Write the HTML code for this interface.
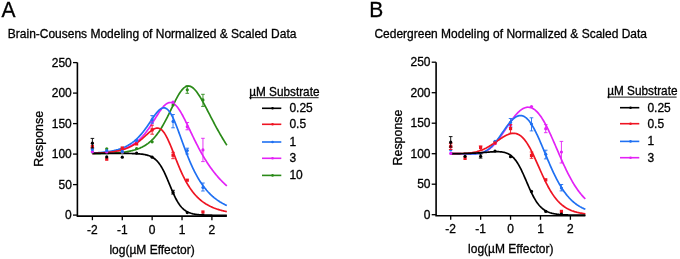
<!DOCTYPE html>
<html><head><meta charset="utf-8"><style>
html,body{margin:0;padding:0;background:#fff;width:680px;height:259px;overflow:hidden}
svg{display:block;will-change:transform}
text{font-family:"Liberation Sans", sans-serif;fill:#000;stroke:#000;stroke-width:0.3px}
</style></head><body>
<svg width="680" height="259" viewBox="0 0 680 259" font-family='"Liberation Sans", sans-serif'>
<rect width="680" height="259" fill="#fff"/>
<text font-size="21" transform="translate(1.60,17.20) scale(1,1.025)">A</text>
<text font-size="12" transform="translate(7.80,37.70) scale(1,1.04)">Brain-Cousens Modeling of Normalized &amp; Scaled Data</text>
<path d="M77.40,62.60 L77.40,216.10 L226.84,216.10" fill="none" stroke="#000" stroke-width="1.6"/>
<line x1="73.00" y1="215.10" x2="77.40" y2="215.10" stroke="#000" stroke-width="1.3"/>
<text font-size="12" text-anchor="end" transform="translate(71.80,219.20) scale(1,1.04)">0</text>
<line x1="73.00" y1="184.60" x2="77.40" y2="184.60" stroke="#000" stroke-width="1.3"/>
<text font-size="12" text-anchor="end" transform="translate(71.80,188.70) scale(1,1.04)">50</text>
<line x1="73.00" y1="154.10" x2="77.40" y2="154.10" stroke="#000" stroke-width="1.3"/>
<text font-size="12" text-anchor="end" transform="translate(71.80,158.20) scale(1,1.04)">100</text>
<line x1="73.00" y1="123.60" x2="77.40" y2="123.60" stroke="#000" stroke-width="1.3"/>
<text font-size="12" text-anchor="end" transform="translate(71.80,127.70) scale(1,1.04)">150</text>
<line x1="73.00" y1="93.10" x2="77.40" y2="93.10" stroke="#000" stroke-width="1.3"/>
<text font-size="12" text-anchor="end" transform="translate(71.80,97.20) scale(1,1.04)">200</text>
<line x1="73.00" y1="62.60" x2="77.40" y2="62.60" stroke="#000" stroke-width="1.3"/>
<text font-size="12" text-anchor="end" transform="translate(71.80,66.70) scale(1,1.04)">250</text>
<line x1="92.40" y1="216.10" x2="92.40" y2="220.20" stroke="#000" stroke-width="1.3"/>
<text font-size="12" text-anchor="middle" transform="translate(92.40,233.80) scale(1,1.04)">-2</text>
<line x1="122.28" y1="216.10" x2="122.28" y2="220.20" stroke="#000" stroke-width="1.3"/>
<text font-size="12" text-anchor="middle" transform="translate(122.28,233.80) scale(1,1.04)">-1</text>
<line x1="152.15" y1="216.10" x2="152.15" y2="220.20" stroke="#000" stroke-width="1.3"/>
<text font-size="12" text-anchor="middle" transform="translate(152.15,233.80) scale(1,1.04)">0</text>
<line x1="182.03" y1="216.10" x2="182.03" y2="220.20" stroke="#000" stroke-width="1.3"/>
<text font-size="12" text-anchor="middle" transform="translate(182.03,233.80) scale(1,1.04)">1</text>
<line x1="211.90" y1="216.10" x2="211.90" y2="220.20" stroke="#000" stroke-width="1.3"/>
<text font-size="12" text-anchor="middle" transform="translate(211.90,233.80) scale(1,1.04)">2</text>
<text font-size="12" text-anchor="middle" transform="translate(152.12,253.80) scale(1,1.04)">log(&#181;M Effector)</text>
<text font-size="12.4" text-anchor="middle" transform="translate(43.40,138.85) rotate(-90) scale(1,1.04)">Response</text>
<text font-size="11.8" transform="translate(249.20,95.50) scale(1,1.04)">&#181;M Substrate</text>
<line x1="249.20" y1="97.70" x2="318.60" y2="97.70" stroke="#000" stroke-width="0.9"/>
<line x1="262.00" y1="108.3" x2="281.30" y2="108.3" stroke="#000000" stroke-width="1.6"/>
<circle cx="272.55" cy="108.3" r="1.3" fill="#000000"/>
<text font-size="12" transform="translate(289.40,112.10) scale(1,1.04)">0.25</text>
<line x1="262.00" y1="124.3" x2="281.30" y2="124.3" stroke="#EE1422" stroke-width="1.6"/>
<circle cx="272.55" cy="124.3" r="1.3" fill="#EE1422"/>
<text font-size="12" transform="translate(289.40,128.10) scale(1,1.04)">0.5</text>
<line x1="262.00" y1="142.0" x2="281.30" y2="142.0" stroke="#1F70F2" stroke-width="1.6"/>
<circle cx="272.55" cy="142.0" r="1.3" fill="#1F70F2"/>
<text font-size="12" transform="translate(289.40,145.80) scale(1,1.04)">1</text>
<line x1="262.00" y1="158.3" x2="281.30" y2="158.3" stroke="#E322F6" stroke-width="1.6"/>
<circle cx="272.55" cy="158.3" r="1.3" fill="#E322F6"/>
<text font-size="12" transform="translate(289.40,162.10) scale(1,1.04)">3</text>
<line x1="262.00" y1="175.4" x2="281.30" y2="175.4" stroke="#2A8A18" stroke-width="1.6"/>
<circle cx="272.55" cy="175.4" r="1.3" fill="#2A8A18"/>
<text font-size="12" transform="translate(289.40,179.20) scale(1,1.04)">10</text>
<text font-size="21" transform="translate(369.30,17.20) scale(1,1.025)">B</text>
<text font-size="12" transform="translate(374.40,37.70) scale(1,1.04)">Cedergreen Modeling of Normalized &amp; Scaled Data</text>
<path d="M436.10,62.20 L436.10,215.70 L585.36,215.70" fill="none" stroke="#000" stroke-width="1.6"/>
<line x1="431.70" y1="214.70" x2="436.10" y2="214.70" stroke="#000" stroke-width="1.3"/>
<text font-size="12" text-anchor="end" transform="translate(430.50,218.60) scale(1,1.04)">0</text>
<line x1="431.70" y1="184.20" x2="436.10" y2="184.20" stroke="#000" stroke-width="1.3"/>
<text font-size="12" text-anchor="end" transform="translate(430.50,188.10) scale(1,1.04)">50</text>
<line x1="431.70" y1="153.70" x2="436.10" y2="153.70" stroke="#000" stroke-width="1.3"/>
<text font-size="12" text-anchor="end" transform="translate(430.50,157.60) scale(1,1.04)">100</text>
<line x1="431.70" y1="123.20" x2="436.10" y2="123.20" stroke="#000" stroke-width="1.3"/>
<text font-size="12" text-anchor="end" transform="translate(430.50,127.10) scale(1,1.04)">150</text>
<line x1="431.70" y1="92.70" x2="436.10" y2="92.70" stroke="#000" stroke-width="1.3"/>
<text font-size="12" text-anchor="end" transform="translate(430.50,96.60) scale(1,1.04)">200</text>
<line x1="431.70" y1="62.20" x2="436.10" y2="62.20" stroke="#000" stroke-width="1.3"/>
<text font-size="12" text-anchor="end" transform="translate(430.50,66.10) scale(1,1.04)">250</text>
<line x1="450.70" y1="215.70" x2="450.70" y2="219.80" stroke="#000" stroke-width="1.3"/>
<text font-size="12" text-anchor="middle" transform="translate(450.70,233.30) scale(1,1.04)">-2</text>
<line x1="480.62" y1="215.70" x2="480.62" y2="219.80" stroke="#000" stroke-width="1.3"/>
<text font-size="12" text-anchor="middle" transform="translate(480.62,233.30) scale(1,1.04)">-1</text>
<line x1="510.55" y1="215.70" x2="510.55" y2="219.80" stroke="#000" stroke-width="1.3"/>
<text font-size="12" text-anchor="middle" transform="translate(510.55,233.30) scale(1,1.04)">0</text>
<line x1="540.48" y1="215.70" x2="540.48" y2="219.80" stroke="#000" stroke-width="1.3"/>
<text font-size="12" text-anchor="middle" transform="translate(540.48,233.30) scale(1,1.04)">1</text>
<line x1="570.40" y1="215.70" x2="570.40" y2="219.80" stroke="#000" stroke-width="1.3"/>
<text font-size="12" text-anchor="middle" transform="translate(570.40,233.30) scale(1,1.04)">2</text>
<text font-size="12" text-anchor="middle" transform="translate(510.73,253.30) scale(1,1.04)">log(&#181;M Effector)</text>
<text font-size="12.4" text-anchor="middle" transform="translate(402.10,137.55) rotate(-90) scale(1,1.04)">Response</text>
<text font-size="11.8" transform="translate(607.20,94.90) scale(1,1.04)">&#181;M Substrate</text>
<line x1="607.20" y1="97.10" x2="676.60" y2="97.10" stroke="#000" stroke-width="0.9"/>
<line x1="620.00" y1="107.7" x2="639.30" y2="107.7" stroke="#000000" stroke-width="1.6"/>
<circle cx="630.55" cy="107.7" r="1.3" fill="#000000"/>
<text font-size="12" transform="translate(647.40,111.50) scale(1,1.04)">0.25</text>
<line x1="620.00" y1="123.7" x2="639.30" y2="123.7" stroke="#EE1422" stroke-width="1.6"/>
<circle cx="630.55" cy="123.7" r="1.3" fill="#EE1422"/>
<text font-size="12" transform="translate(647.40,127.50) scale(1,1.04)">0.5</text>
<line x1="620.00" y1="141.4" x2="639.30" y2="141.4" stroke="#1F70F2" stroke-width="1.6"/>
<circle cx="630.55" cy="141.4" r="1.3" fill="#1F70F2"/>
<text font-size="12" transform="translate(647.40,145.20) scale(1,1.04)">1</text>
<line x1="620.00" y1="157.70000000000002" x2="639.30" y2="157.70000000000002" stroke="#E322F6" stroke-width="1.6"/>
<circle cx="630.55" cy="157.70000000000002" r="1.3" fill="#E322F6"/>
<text font-size="12" transform="translate(647.40,161.50) scale(1,1.04)">3</text>
<path d="M92.40,153.66 L93.08,153.66 L93.75,153.65 L94.43,153.64 L95.10,153.63 L95.78,153.62 L96.45,153.61 L97.13,153.60 L97.80,153.59 L98.48,153.57 L99.16,153.56 L99.83,153.55 L100.51,153.53 L101.18,153.52 L101.86,153.50 L102.53,153.49 L103.21,153.47 L103.88,153.45 L104.56,153.43 L105.24,153.41 L105.91,153.39 L106.59,153.36 L107.26,153.34 L107.94,153.32 L108.61,153.29 L109.29,153.26 L109.96,153.23 L110.64,153.20 L111.32,153.17 L111.99,153.13 L112.67,153.10 L113.34,153.06 L114.02,153.02 L114.69,152.97 L115.37,152.93 L116.04,152.88 L116.72,152.83 L117.40,152.78 L118.07,152.72 L118.75,152.67 L119.42,152.60 L120.10,152.54 L120.77,152.47 L121.45,152.40 L122.12,152.33 L122.80,152.25 L123.48,152.16 L124.15,152.08 L124.83,151.98 L125.50,151.89 L126.18,151.78 L126.85,151.68 L127.53,151.56 L128.20,151.44 L128.88,151.32 L129.56,151.19 L130.23,151.05 L130.91,150.90 L131.58,150.75 L132.26,150.59 L132.93,150.42 L133.61,150.24 L134.29,150.05 L134.96,149.86 L135.64,149.65 L136.31,149.43 L136.99,149.20 L137.66,148.96 L138.34,148.71 L139.01,148.45 L139.69,148.17 L140.37,147.88 L141.04,147.57 L141.72,147.25 L142.39,146.92 L143.07,146.56 L143.74,146.19 L144.42,145.81 L145.09,145.40 L145.77,144.97 L146.45,144.53 L147.12,144.06 L147.80,143.57 L148.47,143.06 L149.15,142.53 L149.82,141.97 L150.50,141.39 L151.17,140.78 L151.85,140.14 L152.53,139.48 L153.20,138.79 L153.88,138.07 L154.55,137.32 L155.23,136.54 L155.90,135.72 L156.58,134.88 L157.25,134.01 L157.93,133.10 L158.61,132.16 L159.28,131.18 L159.96,130.17 L160.63,129.13 L161.31,128.06 L161.98,126.95 L162.66,125.81 L163.33,124.64 L164.01,123.44 L164.69,122.21 L165.36,120.95 L166.04,119.67 L166.71,118.36 L167.39,117.03 L168.06,115.67 L168.74,114.30 L169.41,112.92 L170.09,111.52 L170.77,110.12 L171.44,108.71 L172.12,107.31 L172.79,105.90 L173.47,104.51 L174.14,103.13 L174.82,101.78 L175.49,100.44 L176.17,99.14 L176.85,97.87 L177.52,96.64 L178.20,95.45 L178.87,94.32 L179.55,93.24 L180.22,92.22 L180.90,91.27 L181.57,90.39 L182.25,89.58 L182.93,88.84 L183.60,88.19 L184.28,87.62 L184.95,87.13 L185.63,86.73 L186.30,86.41 L186.98,86.19 L187.65,86.05 L188.33,86.00 L189.01,86.03 L189.68,86.15 L190.36,86.36 L191.03,86.65 L191.71,87.02 L192.38,87.46 L193.06,87.98 L193.73,88.58 L194.41,89.24 L195.09,89.96 L195.76,90.75 L196.44,91.59 L197.11,92.48 L197.79,93.43 L198.46,94.42 L199.14,95.46 L199.81,96.53 L200.49,97.64 L201.17,98.78 L201.84,99.95 L202.52,101.15 L203.19,102.37 L203.87,103.61 L204.54,104.86 L205.22,106.13 L205.89,107.41 L206.57,108.70 L207.25,110.00 L207.92,111.30 L208.60,112.61 L209.27,113.92 L209.95,115.23 L210.62,116.54 L211.30,117.84 L211.98,119.14 L212.65,120.44 L213.33,121.72 L214.00,123.00 L214.68,124.28 L215.35,125.54 L216.03,126.80 L216.70,128.04 L217.38,129.27 L218.06,130.49 L218.73,131.70 L219.41,132.90 L220.08,134.09 L220.76,135.26 L221.43,136.42 L222.11,137.56 L222.78,138.70 L223.46,139.81 L224.14,140.92 L224.81,142.01 L225.49,143.09 L226.16,144.15 L226.84,145.20" fill="none" stroke="#2A8A18" stroke-width="1.7" stroke-linejoin="round"/>
<path d="M92.40,153.33 L93.08,153.31 L93.75,153.28 L94.43,153.25 L95.10,153.22 L95.78,153.19 L96.45,153.16 L97.13,153.13 L97.80,153.09 L98.48,153.06 L99.16,153.02 L99.83,152.98 L100.51,152.93 L101.18,152.89 L101.86,152.84 L102.53,152.79 L103.21,152.74 L103.88,152.68 L104.56,152.63 L105.24,152.57 L105.91,152.50 L106.59,152.43 L107.26,152.36 L107.94,152.29 L108.61,152.21 L109.29,152.13 L109.96,152.05 L110.64,151.96 L111.32,151.86 L111.99,151.76 L112.67,151.66 L113.34,151.55 L114.02,151.44 L114.69,151.32 L115.37,151.19 L116.04,151.06 L116.72,150.92 L117.40,150.77 L118.07,150.62 L118.75,150.46 L119.42,150.29 L120.10,150.11 L120.77,149.93 L121.45,149.74 L122.12,149.53 L122.80,149.32 L123.48,149.10 L124.15,148.86 L124.83,148.62 L125.50,148.36 L126.18,148.09 L126.85,147.81 L127.53,147.52 L128.20,147.21 L128.88,146.89 L129.56,146.55 L130.23,146.20 L130.91,145.83 L131.58,145.45 L132.26,145.05 L132.93,144.63 L133.61,144.19 L134.29,143.73 L134.96,143.26 L135.64,142.76 L136.31,142.25 L136.99,141.71 L137.66,141.15 L138.34,140.57 L139.01,139.96 L139.69,139.33 L140.37,138.68 L141.04,138.00 L141.72,137.30 L142.39,136.57 L143.07,135.82 L143.74,135.04 L144.42,134.24 L145.09,133.41 L145.77,132.56 L146.45,131.68 L147.12,130.78 L147.80,129.85 L148.47,128.90 L149.15,127.93 L149.82,126.94 L150.50,125.93 L151.17,124.90 L151.85,123.85 L152.53,122.79 L153.20,121.72 L153.88,120.65 L154.55,119.56 L155.23,118.47 L155.90,117.39 L156.58,116.30 L157.25,115.23 L157.93,114.17 L158.61,113.13 L159.28,112.10 L159.96,111.11 L160.63,110.14 L161.31,109.21 L161.98,108.32 L162.66,107.48 L163.33,106.69 L164.01,105.95 L164.69,105.27 L165.36,104.66 L166.04,104.12 L166.71,103.65 L167.39,103.25 L168.06,102.94 L168.74,102.70 L169.41,102.55 L170.09,102.49 L170.77,102.51 L171.44,102.61 L172.12,102.81 L172.79,103.09 L173.47,103.45 L174.14,103.90 L174.82,104.43 L175.49,105.04 L176.17,105.73 L176.85,106.49 L177.52,107.32 L178.20,108.22 L178.87,109.17 L179.55,110.19 L180.22,111.26 L180.90,112.38 L181.57,113.55 L182.25,114.76 L182.93,116.01 L183.60,117.28 L184.28,118.59 L184.95,119.93 L185.63,121.28 L186.30,122.66 L186.98,124.05 L187.65,125.45 L188.33,126.86 L189.01,128.27 L189.68,129.69 L190.36,131.11 L191.03,132.53 L191.71,133.94 L192.38,135.35 L193.06,136.75 L193.73,138.14 L194.41,139.52 L195.09,140.89 L195.76,142.25 L196.44,143.59 L197.11,144.91 L197.79,146.23 L198.46,147.52 L199.14,148.80 L199.81,150.06 L200.49,151.30 L201.17,152.52 L201.84,153.73 L202.52,154.91 L203.19,156.08 L203.87,157.23 L204.54,158.36 L205.22,159.47 L205.89,160.56 L206.57,161.63 L207.25,162.68 L207.92,163.72 L208.60,164.73 L209.27,165.73 L209.95,166.71 L210.62,167.67 L211.30,168.61 L211.98,169.53 L212.65,170.44 L213.33,171.33 L214.00,172.20 L214.68,173.05 L215.35,173.89 L216.03,174.71 L216.70,175.52 L217.38,176.31 L218.06,177.09 L218.73,177.85 L219.41,178.59 L220.08,179.32 L220.76,180.04 L221.43,180.74 L222.11,181.43 L222.78,182.10 L223.46,182.76 L224.14,183.41 L224.81,184.04 L225.49,184.67 L226.16,185.27 L226.84,185.87" fill="none" stroke="#E322F6" stroke-width="1.7" stroke-linejoin="round"/>
<path d="M92.40,153.10 L93.08,153.06 L93.75,153.03 L94.43,152.99 L95.10,152.95 L95.78,152.91 L96.45,152.86 L97.13,152.81 L97.80,152.77 L98.48,152.72 L99.16,152.66 L99.83,152.61 L100.51,152.55 L101.18,152.49 L101.86,152.42 L102.53,152.35 L103.21,152.28 L103.88,152.21 L104.56,152.13 L105.24,152.05 L105.91,151.96 L106.59,151.87 L107.26,151.78 L107.94,151.68 L108.61,151.58 L109.29,151.47 L109.96,151.36 L110.64,151.24 L111.32,151.12 L111.99,150.99 L112.67,150.85 L113.34,150.71 L114.02,150.56 L114.69,150.40 L115.37,150.24 L116.04,150.07 L116.72,149.89 L117.40,149.70 L118.07,149.51 L118.75,149.30 L119.42,149.09 L120.10,148.87 L120.77,148.63 L121.45,148.39 L122.12,148.13 L122.80,147.86 L123.48,147.58 L124.15,147.29 L124.83,146.99 L125.50,146.67 L126.18,146.34 L126.85,145.99 L127.53,145.63 L128.20,145.25 L128.88,144.85 L129.56,144.44 L130.23,144.01 L130.91,143.57 L131.58,143.10 L132.26,142.62 L132.93,142.12 L133.61,141.59 L134.29,141.05 L134.96,140.48 L135.64,139.90 L136.31,139.29 L136.99,138.66 L137.66,138.00 L138.34,137.32 L139.01,136.62 L139.69,135.90 L140.37,135.15 L141.04,134.38 L141.72,133.58 L142.39,132.76 L143.07,131.92 L143.74,131.06 L144.42,130.17 L145.09,129.27 L145.77,128.34 L146.45,127.40 L147.12,126.44 L147.80,125.46 L148.47,124.47 L149.15,123.48 L149.82,122.47 L150.50,121.46 L151.17,120.45 L151.85,119.44 L152.53,118.44 L153.20,117.45 L153.88,116.48 L154.55,115.53 L155.23,114.61 L155.90,113.72 L156.58,112.86 L157.25,112.06 L157.93,111.30 L158.61,110.60 L159.28,109.97 L159.96,109.40 L160.63,108.91 L161.31,108.51 L161.98,108.19 L162.66,107.97 L163.33,107.85 L164.01,107.83 L164.69,107.91 L165.36,108.11 L166.04,108.41 L166.71,108.83 L167.39,109.36 L168.06,110.00 L168.74,110.76 L169.41,111.62 L170.09,112.59 L170.77,113.66 L171.44,114.83 L172.12,116.09 L172.79,117.44 L173.47,118.87 L174.14,120.37 L174.82,121.94 L175.49,123.57 L176.17,125.25 L176.85,126.98 L177.52,128.75 L178.20,130.55 L178.87,132.38 L179.55,134.22 L180.22,136.08 L180.90,137.95 L181.57,139.82 L182.25,141.68 L182.93,143.54 L183.60,145.39 L184.28,147.22 L184.95,149.04 L185.63,150.83 L186.30,152.59 L186.98,154.33 L187.65,156.04 L188.33,157.72 L189.01,159.37 L189.68,160.99 L190.36,162.57 L191.03,164.11 L191.71,165.62 L192.38,167.09 L193.06,168.53 L193.73,169.93 L194.41,171.30 L195.09,172.63 L195.76,173.92 L196.44,175.18 L197.11,176.40 L197.79,177.59 L198.46,178.74 L199.14,179.86 L199.81,180.95 L200.49,182.01 L201.17,183.04 L201.84,184.03 L202.52,185.00 L203.19,185.93 L203.87,186.84 L204.54,187.72 L205.22,188.58 L205.89,189.40 L206.57,190.21 L207.25,190.98 L207.92,191.74 L208.60,192.47 L209.27,193.17 L209.95,193.86 L210.62,194.52 L211.30,195.17 L211.98,195.79 L212.65,196.40 L213.33,196.98 L214.00,197.55 L214.68,198.10 L215.35,198.63 L216.03,199.15 L216.70,199.65 L217.38,200.13 L218.06,200.60 L218.73,201.05 L219.41,201.49 L220.08,201.92 L220.76,202.33 L221.43,202.73 L222.11,203.12 L222.78,203.50 L223.46,203.86 L224.14,204.21 L224.81,204.56 L225.49,204.89 L226.16,205.21 L226.84,205.52" fill="none" stroke="#1F70F2" stroke-width="1.7" stroke-linejoin="round"/>
<path d="M92.40,153.38 L93.08,153.36 L93.75,153.33 L94.43,153.31 L95.10,153.28 L95.78,153.25 L96.45,153.22 L97.13,153.19 L97.80,153.16 L98.48,153.13 L99.16,153.09 L99.83,153.05 L100.51,153.01 L101.18,152.97 L101.86,152.93 L102.53,152.88 L103.21,152.83 L103.88,152.78 L104.56,152.73 L105.24,152.67 L105.91,152.61 L106.59,152.55 L107.26,152.49 L107.94,152.42 L108.61,152.34 L109.29,152.27 L109.96,152.19 L110.64,152.11 L111.32,152.02 L111.99,151.93 L112.67,151.83 L113.34,151.73 L114.02,151.62 L114.69,151.51 L115.37,151.39 L116.04,151.27 L116.72,151.14 L117.40,151.00 L118.07,150.86 L118.75,150.71 L119.42,150.55 L120.10,150.39 L120.77,150.22 L121.45,150.04 L122.12,149.85 L122.80,149.65 L123.48,149.45 L124.15,149.23 L124.83,149.00 L125.50,148.77 L126.18,148.52 L126.85,148.26 L127.53,147.99 L128.20,147.71 L128.88,147.41 L129.56,147.10 L130.23,146.78 L130.91,146.45 L131.58,146.10 L132.26,145.74 L132.93,145.36 L133.61,144.97 L134.29,144.56 L134.96,144.14 L135.64,143.71 L136.31,143.25 L136.99,142.79 L137.66,142.30 L138.34,141.80 L139.01,141.29 L139.69,140.76 L140.37,140.22 L141.04,139.67 L141.72,139.10 L142.39,138.52 L143.07,137.93 L143.74,137.33 L144.42,136.72 L145.09,136.11 L145.77,135.49 L146.45,134.88 L147.12,134.26 L147.80,133.65 L148.47,133.05 L149.15,132.46 L149.82,131.89 L150.50,131.34 L151.17,130.81 L151.85,130.31 L152.53,129.85 L153.20,129.43 L153.88,129.06 L154.55,128.74 L155.23,128.47 L155.90,128.28 L156.58,128.15 L157.25,128.10 L157.93,128.12 L158.61,128.24 L159.28,128.44 L159.96,128.74 L160.63,129.13 L161.31,129.62 L161.98,130.22 L162.66,130.91 L163.33,131.70 L164.01,132.60 L164.69,133.59 L165.36,134.67 L166.04,135.84 L166.71,137.09 L167.39,138.43 L168.06,139.83 L168.74,141.30 L169.41,142.83 L170.09,144.41 L170.77,146.03 L171.44,147.69 L172.12,149.38 L172.79,151.09 L173.47,152.81 L174.14,154.54 L174.82,156.27 L175.49,158.00 L176.17,159.71 L176.85,161.42 L177.52,163.10 L178.20,164.76 L178.87,166.39 L179.55,168.00 L180.22,169.57 L180.90,171.11 L181.57,172.61 L182.25,174.07 L182.93,175.50 L183.60,176.89 L184.28,178.24 L184.95,179.55 L185.63,180.82 L186.30,182.05 L186.98,183.24 L187.65,184.39 L188.33,185.51 L189.01,186.58 L189.68,187.62 L190.36,188.63 L191.03,189.60 L191.71,190.53 L192.38,191.43 L193.06,192.30 L193.73,193.14 L194.41,193.95 L195.09,194.73 L195.76,195.48 L196.44,196.20 L197.11,196.90 L197.79,197.57 L198.46,198.22 L199.14,198.84 L199.81,199.44 L200.49,200.02 L201.17,200.57 L201.84,201.11 L202.52,201.62 L203.19,202.12 L203.87,202.60 L204.54,203.06 L205.22,203.50 L205.89,203.93 L206.57,204.34 L207.25,204.73 L207.92,205.12 L208.60,205.48 L209.27,205.84 L209.95,206.18 L210.62,206.51 L211.30,206.82 L211.98,207.13 L212.65,207.42 L213.33,207.70 L214.00,207.98 L214.68,208.24 L215.35,208.49 L216.03,208.74 L216.70,208.97 L217.38,209.20 L218.06,209.42 L218.73,209.63 L219.41,209.83 L220.08,210.02 L220.76,210.21 L221.43,210.39 L222.11,210.57 L222.78,210.74 L223.46,210.90 L224.14,211.06 L224.81,211.21 L225.49,211.35 L226.16,211.49 L226.84,211.63" fill="none" stroke="#EE1422" stroke-width="1.7" stroke-linejoin="round"/>
<path d="M92.40,153.38 L93.08,153.38 L93.75,153.38 L94.43,153.38 L95.10,153.38 L95.78,153.38 L96.45,153.38 L97.13,153.38 L97.80,153.38 L98.48,153.38 L99.16,153.38 L99.83,153.38 L100.51,153.38 L101.18,153.38 L101.86,153.38 L102.53,153.38 L103.21,153.38 L103.88,153.38 L104.56,153.38 L105.24,153.37 L105.91,153.38 L106.59,153.38 L107.26,153.38 L107.94,153.38 L108.61,153.38 L109.29,153.38 L109.96,153.38 L110.64,153.38 L111.32,153.38 L111.99,153.38 L112.67,153.38 L113.34,153.38 L114.02,153.38 L114.69,153.38 L115.37,153.38 L116.04,153.38 L116.72,153.38 L117.40,153.38 L118.07,153.39 L118.75,153.39 L119.42,153.39 L120.10,153.39 L120.77,153.40 L121.45,153.40 L122.12,153.40 L122.80,153.40 L123.48,153.41 L124.15,153.41 L124.83,153.42 L125.50,153.42 L126.18,153.43 L126.85,153.44 L127.53,153.45 L128.20,153.46 L128.88,153.47 L129.56,153.48 L130.23,153.49 L130.91,153.50 L131.58,153.52 L132.26,153.54 L132.93,153.56 L133.61,153.58 L134.29,153.60 L134.96,153.63 L135.64,153.66 L136.31,153.69 L136.99,153.73 L137.66,153.77 L138.34,153.81 L139.01,153.86 L139.69,153.92 L140.37,153.98 L141.04,154.05 L141.72,154.13 L142.39,154.21 L143.07,154.30 L143.74,154.41 L144.42,154.52 L145.09,154.65 L145.77,154.80 L146.45,154.95 L147.12,155.13 L147.80,155.32 L148.47,155.53 L149.15,155.77 L149.82,156.02 L150.50,156.31 L151.17,156.62 L151.85,156.97 L152.53,157.35 L153.20,157.77 L153.88,158.22 L154.55,158.72 L155.23,159.27 L155.90,159.86 L156.58,160.51 L157.25,161.21 L157.93,161.97 L158.61,162.79 L159.28,163.68 L159.96,164.63 L160.63,165.64 L161.31,166.72 L161.98,167.87 L162.66,169.09 L163.33,170.37 L164.01,171.72 L164.69,173.12 L165.36,174.58 L166.04,176.09 L166.71,177.65 L167.39,179.24 L168.06,180.85 L168.74,182.49 L169.41,184.14 L170.09,185.79 L170.77,187.43 L171.44,189.05 L172.12,190.64 L172.79,192.21 L173.47,193.73 L174.14,195.20 L174.82,196.62 L175.49,197.98 L176.17,199.27 L176.85,200.51 L177.52,201.67 L178.20,202.77 L178.87,203.80 L179.55,204.76 L180.22,205.66 L180.90,206.50 L181.57,207.27 L182.25,207.99 L182.93,208.65 L183.60,209.25 L184.28,209.81 L184.95,210.32 L185.63,210.79 L186.30,211.21 L186.98,211.60 L187.65,211.95 L188.33,212.28 L189.01,212.57 L189.68,212.83 L190.36,213.07 L191.03,213.29 L191.71,213.49 L192.38,213.67 L193.06,213.83 L193.73,213.97 L194.41,214.10 L195.09,214.22 L195.76,214.33 L196.44,214.43 L197.11,214.51 L197.79,214.59 L198.46,214.66 L199.14,214.73 L199.81,214.78 L200.49,214.84 L201.17,214.88 L201.84,214.92 L202.52,214.96 L203.19,215.00 L203.87,215.03 L204.54,215.05 L205.22,215.08 L205.89,215.10 L206.57,215.12 L207.25,215.14 L207.92,215.16 L208.60,215.17 L209.27,215.18 L209.95,215.19 L210.62,215.21 L211.30,215.21 L211.98,215.22 L212.65,215.23 L213.33,215.24 L214.00,215.24 L214.68,215.25 L215.35,215.26 L216.03,215.26 L216.70,215.26 L217.38,215.27 L218.06,215.27 L218.73,215.27 L219.41,215.28 L220.08,215.28 L220.76,215.28 L221.43,215.28 L222.11,215.28 L222.78,215.29 L223.46,215.29 L224.14,215.29 L224.81,215.29 L225.49,215.29 L226.16,215.29 L226.84,215.29" fill="none" stroke="#000000" stroke-width="1.7" stroke-linejoin="round"/>
<circle cx="92.40" cy="152.00" r="1.6" fill="#2A8A18"/>
<circle cx="106.74" cy="148.80" r="1.6" fill="#2A8A18"/>
<circle cx="122.28" cy="152.60" r="1.6" fill="#2A8A18"/>
<circle cx="136.62" cy="148.50" r="1.6" fill="#2A8A18"/>
<circle cx="152.15" cy="141.80" r="1.6" fill="#2A8A18"/>
<circle cx="173.06" cy="105.00" r="1.6" fill="#2A8A18"/>
<path d="M187.28,85.80 L187.28,93.30 M185.48,85.80 L189.08,85.80 M185.48,93.30 L189.08,93.30" stroke="#2A8A18" stroke-width="0.9" fill="none"/>
<circle cx="187.28" cy="89.80" r="1.6" fill="#2A8A18"/>
<path d="M202.94,94.30 L202.94,106.40 M201.14,94.30 L204.74,94.30 M201.14,106.40 L204.74,106.40" stroke="#2A8A18" stroke-width="0.9" fill="none"/>
<circle cx="202.94" cy="99.90" r="1.6" fill="#2A8A18"/>
<circle cx="92.40" cy="151.70" r="1.6" fill="#E322F6"/>
<circle cx="106.74" cy="152.00" r="1.6" fill="#E322F6"/>
<circle cx="122.28" cy="152.00" r="1.6" fill="#E322F6"/>
<circle cx="136.62" cy="142.00" r="1.6" fill="#E322F6"/>
<circle cx="152.15" cy="121.40" r="1.6" fill="#E322F6"/>
<circle cx="173.06" cy="102.00" r="1.6" fill="#E322F6"/>
<path d="M187.28,122.50 L187.28,129.80 M185.48,122.50 L189.08,122.50 M185.48,129.80 L189.08,129.80" stroke="#E322F6" stroke-width="0.9" fill="none"/>
<circle cx="187.28" cy="126.70" r="1.6" fill="#E322F6"/>
<path d="M202.94,138.30 L202.94,161.60 M201.14,138.30 L204.74,138.30 M201.14,161.60 L204.74,161.60" stroke="#E322F6" stroke-width="0.9" fill="none"/>
<circle cx="202.94" cy="149.90" r="1.6" fill="#E322F6"/>
<circle cx="92.40" cy="149.40" r="1.6" fill="#1F70F2"/>
<circle cx="106.74" cy="150.50" r="1.6" fill="#1F70F2"/>
<circle cx="122.28" cy="151.40" r="1.6" fill="#1F70F2"/>
<circle cx="136.62" cy="140.40" r="1.6" fill="#1F70F2"/>
<path d="M152.15,115.60 L152.15,123.20 M150.35,115.60 L153.95,115.60 M150.35,123.20 L153.95,123.20" stroke="#1F70F2" stroke-width="0.9" fill="none"/>
<circle cx="152.15" cy="119.70" r="1.6" fill="#1F70F2"/>
<path d="M173.06,114.50 L173.06,127.80 M171.26,114.50 L174.86,114.50 M171.26,127.80 L174.86,127.80" stroke="#1F70F2" stroke-width="0.9" fill="none"/>
<circle cx="173.06" cy="121.40" r="1.6" fill="#1F70F2"/>
<path d="M187.28,148.20 L187.28,154.00 M185.48,148.20 L189.08,148.20 M185.48,154.00 L189.08,154.00" stroke="#1F70F2" stroke-width="0.9" fill="none"/>
<circle cx="187.28" cy="150.50" r="1.6" fill="#1F70F2"/>
<path d="M202.94,183.00 L202.94,191.00 M201.14,183.00 L204.74,183.00 M201.14,191.00 L204.74,191.00" stroke="#1F70F2" stroke-width="0.9" fill="none"/>
<circle cx="202.94" cy="187.50" r="1.6" fill="#1F70F2"/>
<rect x="90.80" y="144.90" width="3.2" height="3.2" fill="#EE1422"/>
<rect x="105.14" y="157.60" width="3.2" height="3.2" fill="#EE1422"/>
<rect x="120.68" y="146.40" width="3.2" height="3.2" fill="#EE1422"/>
<rect x="135.02" y="142.30" width="3.2" height="3.2" fill="#EE1422"/>
<path d="M152.15,125.20 L152.15,134.20 M150.35,125.20 L153.95,125.20 M150.35,134.20 L153.95,134.20" stroke="#EE1422" stroke-width="0.9" fill="none"/>
<rect x="150.55" y="128.20" width="3.2" height="3.2" fill="#EE1422"/>
<path d="M173.06,152.30 L173.06,158.70 M171.26,152.30 L174.86,152.30 M171.26,158.70 L174.86,158.70" stroke="#EE1422" stroke-width="0.9" fill="none"/>
<rect x="171.46" y="153.60" width="3.2" height="3.2" fill="#EE1422"/>
<rect x="185.68" y="178.60" width="3.2" height="3.2" fill="#EE1422"/>
<rect x="201.34" y="210.40" width="3.2" height="3.2" fill="#EE1422"/>
<path d="M92.40,138.40 L92.40,148.00 M90.60,138.40 L94.20,138.40 M90.60,148.00 L94.20,148.00" stroke="#000000" stroke-width="0.9" fill="none"/>
<circle cx="92.40" cy="143.20" r="1.6" fill="#000000"/>
<circle cx="106.74" cy="156.90" r="1.6" fill="#000000"/>
<circle cx="122.28" cy="157.20" r="1.6" fill="#000000"/>
<circle cx="136.62" cy="153.20" r="1.6" fill="#000000"/>
<circle cx="152.15" cy="157.20" r="1.6" fill="#000000"/>
<path d="M173.06,190.30 L173.06,194.10 M171.26,190.30 L174.86,190.30 M171.26,194.10 L174.86,194.10" stroke="#000000" stroke-width="0.9" fill="none"/>
<circle cx="173.06" cy="192.40" r="1.6" fill="#000000"/>
<circle cx="187.28" cy="212.60" r="1.6" fill="#000000"/>
<circle cx="202.94" cy="215.00" r="1.6" fill="#000000"/>
<path d="M450.70,153.66 L451.38,153.66 L452.05,153.66 L452.73,153.67 L453.41,153.67 L454.08,153.68 L454.76,153.68 L455.44,153.68 L456.11,153.69 L456.79,153.69 L457.47,153.70 L458.14,153.70 L458.82,153.71 L459.50,153.71 L460.17,153.72 L460.85,153.72 L461.53,153.73 L462.20,153.74 L462.88,153.74 L463.56,153.75 L464.23,153.75 L464.91,153.76 L465.59,153.77 L466.26,153.77 L466.94,153.78 L467.62,153.78 L468.29,153.79 L468.97,153.79 L469.65,153.79 L470.32,153.79 L471.00,153.78 L471.68,153.78 L472.35,153.77 L473.03,153.75 L473.71,153.73 L474.38,153.70 L475.06,153.67 L475.74,153.63 L476.41,153.58 L477.09,153.51 L477.77,153.44 L478.44,153.35 L479.12,153.25 L479.80,153.13 L480.47,153.00 L481.15,152.84 L481.83,152.67 L482.50,152.47 L483.18,152.25 L483.86,152.00 L484.53,151.73 L485.21,151.44 L485.89,151.11 L486.56,150.75 L487.24,150.37 L487.92,149.95 L488.59,149.50 L489.27,149.02 L489.95,148.51 L490.63,147.96 L491.30,147.38 L491.98,146.77 L492.66,146.13 L493.33,145.45 L494.01,144.74 L494.69,144.00 L495.36,143.24 L496.04,142.44 L496.72,141.62 L497.39,140.77 L498.07,139.90 L498.75,139.00 L499.42,138.08 L500.10,137.15 L500.78,136.19 L501.45,135.22 L502.13,134.24 L502.81,133.24 L503.48,132.24 L504.16,131.23 L504.84,130.21 L505.51,129.19 L506.19,128.17 L506.87,127.15 L507.54,126.14 L508.22,125.13 L508.90,124.13 L509.57,123.14 L510.25,122.17 L510.93,121.21 L511.60,120.26 L512.28,119.34 L512.96,118.43 L513.63,117.55 L514.31,116.69 L514.99,115.86 L515.66,115.06 L516.34,114.29 L517.02,113.55 L517.69,112.84 L518.37,112.17 L519.05,111.54 L519.72,110.94 L520.40,110.39 L521.08,109.87 L521.75,109.40 L522.43,108.97 L523.11,108.59 L523.78,108.25 L524.46,107.95 L525.14,107.71 L525.81,107.51 L526.49,107.37 L527.17,107.27 L527.84,107.22 L528.52,107.23 L529.20,107.29 L529.87,107.40 L530.55,107.56 L531.23,107.77 L531.90,108.04 L532.58,108.37 L533.26,108.74 L533.93,109.17 L534.61,109.66 L535.29,110.19 L535.96,110.78 L536.64,111.42 L537.32,112.12 L537.99,112.86 L538.67,113.66 L539.35,114.50 L540.02,115.40 L540.70,116.34 L541.38,117.33 L542.05,118.36 L542.73,119.44 L543.41,120.56 L544.08,121.72 L544.76,122.93 L545.44,124.17 L546.11,125.44 L546.79,126.75 L547.47,128.10 L548.14,129.47 L548.82,130.87 L549.50,132.30 L550.17,133.76 L550.85,135.23 L551.53,136.73 L552.20,138.24 L552.88,139.77 L553.56,141.31 L554.23,142.87 L554.91,144.43 L555.59,145.99 L556.26,147.57 L556.94,149.14 L557.62,150.71 L558.29,152.28 L558.97,153.85 L559.65,155.41 L560.32,156.96 L561.00,158.51 L561.68,160.04 L562.35,161.56 L563.03,163.06 L563.71,164.54 L564.38,166.01 L565.06,167.46 L565.74,168.89 L566.42,170.29 L567.09,171.68 L567.77,173.03 L568.45,174.37 L569.12,175.68 L569.80,176.96 L570.48,178.22 L571.15,179.45 L571.83,180.65 L572.51,181.83 L573.18,182.97 L573.86,184.09 L574.54,185.18 L575.21,186.24 L575.89,187.28 L576.57,188.28 L577.24,189.26 L577.92,190.21 L578.60,191.13 L579.27,192.03 L579.95,192.89 L580.63,193.73 L581.30,194.55 L581.98,195.33 L582.66,196.10 L583.33,196.83 L584.01,197.55 L584.69,198.24 L585.36,198.90" fill="none" stroke="#E322F6" stroke-width="1.7" stroke-linejoin="round"/>
<path d="M450.70,153.70 L451.38,153.71 L452.05,153.72 L452.73,153.72 L453.41,153.73 L454.08,153.74 L454.76,153.74 L455.44,153.75 L456.11,153.76 L456.79,153.77 L457.47,153.78 L458.14,153.79 L458.82,153.80 L459.50,153.81 L460.17,153.82 L460.85,153.83 L461.53,153.84 L462.20,153.85 L462.88,153.86 L463.56,153.87 L464.23,153.89 L464.91,153.90 L465.59,153.91 L466.26,153.92 L466.94,153.94 L467.62,153.95 L468.29,153.96 L468.97,153.97 L469.65,153.97 L470.32,153.98 L471.00,153.98 L471.68,153.97 L472.35,153.97 L473.03,153.95 L473.71,153.94 L474.38,153.91 L475.06,153.87 L475.74,153.83 L476.41,153.77 L477.09,153.70 L477.77,153.62 L478.44,153.52 L479.12,153.40 L479.80,153.27 L480.47,153.11 L481.15,152.94 L481.83,152.74 L482.50,152.51 L483.18,152.26 L483.86,151.98 L484.53,151.68 L485.21,151.34 L485.89,150.97 L486.56,150.57 L487.24,150.13 L487.92,149.67 L488.59,149.17 L489.27,148.63 L489.95,148.06 L490.63,147.46 L491.30,146.82 L491.98,146.15 L492.66,145.45 L493.33,144.72 L494.01,143.96 L494.69,143.16 L495.36,142.34 L496.04,141.50 L496.72,140.63 L497.39,139.73 L498.07,138.82 L498.75,137.89 L499.42,136.95 L500.10,135.99 L500.78,135.02 L501.45,134.05 L502.13,133.07 L502.81,132.08 L503.48,131.11 L504.16,130.13 L504.84,129.16 L505.51,128.20 L506.19,127.26 L506.87,126.33 L507.54,125.42 L508.22,124.54 L508.90,123.68 L509.57,122.84 L510.25,122.04 L510.93,121.28 L511.60,120.55 L512.28,119.86 L512.96,119.21 L513.63,118.61 L514.31,118.05 L514.99,117.55 L515.66,117.10 L516.34,116.70 L517.02,116.35 L517.69,116.07 L518.37,115.84 L519.05,115.68 L519.72,115.58 L520.40,115.54 L521.08,115.56 L521.75,115.66 L522.43,115.81 L523.11,116.04 L523.78,116.33 L524.46,116.69 L525.14,117.12 L525.81,117.61 L526.49,118.18 L527.17,118.80 L527.84,119.50 L528.52,120.25 L529.20,121.08 L529.87,121.96 L530.55,122.90 L531.23,123.91 L531.90,124.97 L532.58,126.08 L533.26,127.25 L533.93,128.46 L534.61,129.73 L535.29,131.04 L535.96,132.39 L536.64,133.78 L537.32,135.21 L537.99,136.68 L538.67,138.17 L539.35,139.69 L540.02,141.24 L540.70,142.80 L541.38,144.39 L542.05,145.99 L542.73,147.60 L543.41,149.22 L544.08,150.85 L544.76,152.48 L545.44,154.11 L546.11,155.74 L546.79,157.36 L547.47,158.97 L548.14,160.57 L548.82,162.17 L549.50,163.74 L550.17,165.30 L550.85,166.84 L551.53,168.36 L552.20,169.86 L552.88,171.33 L553.56,172.78 L554.23,174.21 L554.91,175.60 L555.59,176.97 L556.26,178.30 L556.94,179.61 L557.62,180.89 L558.29,182.13 L558.97,183.35 L559.65,184.53 L560.32,185.68 L561.00,186.80 L561.68,187.88 L562.35,188.94 L563.03,189.96 L563.71,190.95 L564.38,191.91 L565.06,192.84 L565.74,193.74 L566.42,194.61 L567.09,195.45 L567.77,196.26 L568.45,197.04 L569.12,197.80 L569.80,198.52 L570.48,199.22 L571.15,199.90 L571.83,200.55 L572.51,201.17 L573.18,201.77 L573.86,202.35 L574.54,202.91 L575.21,203.44 L575.89,203.95 L576.57,204.44 L577.24,204.92 L577.92,205.37 L578.60,205.80 L579.27,206.22 L579.95,206.62 L580.63,207.00 L581.30,207.37 L581.98,207.72 L582.66,208.05 L583.33,208.38 L584.01,208.68 L584.69,208.98 L585.36,209.26" fill="none" stroke="#1F70F2" stroke-width="1.7" stroke-linejoin="round"/>
<path d="M450.70,153.62 L451.38,153.62 L452.05,153.62 L452.73,153.62 L453.41,153.62 L454.08,153.61 L454.76,153.61 L455.44,153.61 L456.11,153.61 L456.79,153.60 L457.47,153.60 L458.14,153.59 L458.82,153.59 L459.50,153.58 L460.17,153.56 L460.85,153.55 L461.53,153.54 L462.20,153.52 L462.88,153.50 L463.56,153.47 L464.23,153.44 L464.91,153.41 L465.59,153.37 L466.26,153.33 L466.94,153.28 L467.62,153.23 L468.29,153.17 L468.97,153.10 L469.65,153.03 L470.32,152.95 L471.00,152.86 L471.68,152.77 L472.35,152.66 L473.03,152.55 L473.71,152.42 L474.38,152.29 L475.06,152.14 L475.74,151.98 L476.41,151.82 L477.09,151.64 L477.77,151.44 L478.44,151.24 L479.12,151.02 L479.80,150.80 L480.47,150.55 L481.15,150.30 L481.83,150.03 L482.50,149.75 L483.18,149.46 L483.86,149.15 L484.53,148.83 L485.21,148.50 L485.89,148.16 L486.56,147.80 L487.24,147.43 L487.92,147.05 L488.59,146.66 L489.27,146.26 L489.95,145.85 L490.63,145.43 L491.30,145.00 L491.98,144.56 L492.66,144.11 L493.33,143.66 L494.01,143.20 L494.69,142.74 L495.36,142.28 L496.04,141.81 L496.72,141.34 L497.39,140.87 L498.07,140.40 L498.75,139.94 L499.42,139.47 L500.10,139.01 L500.78,138.56 L501.45,138.12 L502.13,137.68 L502.81,137.26 L503.48,136.84 L504.16,136.45 L504.84,136.06 L505.51,135.70 L506.19,135.35 L506.87,135.02 L507.54,134.72 L508.22,134.44 L508.90,134.18 L509.57,133.96 L510.25,133.76 L510.93,133.60 L511.60,133.47 L512.28,133.37 L512.96,133.32 L513.63,133.30 L514.31,133.32 L514.99,133.39 L515.66,133.50 L516.34,133.66 L517.02,133.86 L517.69,134.12 L518.37,134.42 L519.05,134.78 L519.72,135.19 L520.40,135.65 L521.08,136.17 L521.75,136.75 L522.43,137.38 L523.11,138.07 L523.78,138.82 L524.46,139.62 L525.14,140.47 L525.81,141.39 L526.49,142.35 L527.17,143.37 L527.84,144.45 L528.52,145.57 L529.20,146.74 L529.87,147.96 L530.55,149.22 L531.23,150.52 L531.90,151.87 L532.58,153.24 L533.26,154.65 L533.93,156.09 L534.61,157.55 L535.29,159.03 L535.96,160.54 L536.64,162.05 L537.32,163.58 L537.99,165.12 L538.67,166.65 L539.35,168.19 L540.02,169.72 L540.70,171.25 L541.38,172.77 L542.05,174.27 L542.73,175.75 L543.41,177.22 L544.08,178.66 L544.76,180.08 L545.44,181.47 L546.11,182.84 L546.79,184.17 L547.47,185.47 L548.14,186.74 L548.82,187.98 L549.50,189.18 L550.17,190.34 L550.85,191.47 L551.53,192.56 L552.20,193.61 L552.88,194.63 L553.56,195.61 L554.23,196.55 L554.91,197.46 L555.59,198.33 L556.26,199.17 L556.94,199.97 L557.62,200.74 L558.29,201.48 L558.97,202.18 L559.65,202.86 L560.32,203.50 L561.00,204.11 L561.68,204.70 L562.35,205.25 L563.03,205.78 L563.71,206.29 L564.38,206.77 L565.06,207.22 L565.74,207.66 L566.42,208.07 L567.09,208.46 L567.77,208.83 L568.45,209.18 L569.12,209.51 L569.80,209.83 L570.48,210.13 L571.15,210.41 L571.83,210.68 L572.51,210.93 L573.18,211.17 L573.86,211.40 L574.54,211.62 L575.21,211.82 L575.89,212.01 L576.57,212.19 L577.24,212.37 L577.92,212.53 L578.60,212.68 L579.27,212.82 L579.95,212.96 L580.63,213.09 L581.30,213.21 L581.98,213.33 L582.66,213.43 L583.33,213.54 L584.01,213.63 L584.69,213.72 L585.36,213.81" fill="none" stroke="#EE1422" stroke-width="1.7" stroke-linejoin="round"/>
<path d="M450.70,153.58 L451.38,153.58 L452.05,153.58 L452.73,153.58 L453.41,153.58 L454.08,153.57 L454.76,153.57 L455.44,153.57 L456.11,153.56 L456.79,153.56 L457.47,153.56 L458.14,153.55 L458.82,153.54 L459.50,153.54 L460.17,153.53 L460.85,153.52 L461.53,153.51 L462.20,153.51 L462.88,153.49 L463.56,153.48 L464.23,153.47 L464.91,153.46 L465.59,153.44 L466.26,153.43 L466.94,153.41 L467.62,153.39 L468.29,153.37 L468.97,153.35 L469.65,153.33 L470.32,153.30 L471.00,153.28 L471.68,153.25 L472.35,153.22 L473.03,153.19 L473.71,153.16 L474.38,153.13 L475.06,153.09 L475.74,153.06 L476.41,153.02 L477.09,152.98 L477.77,152.94 L478.44,152.89 L479.12,152.85 L479.80,152.80 L480.47,152.75 L481.15,152.70 L481.83,152.65 L482.50,152.60 L483.18,152.55 L483.86,152.50 L484.53,152.44 L485.21,152.39 L485.89,152.33 L486.56,152.28 L487.24,152.23 L487.92,152.17 L488.59,152.12 L489.27,152.07 L489.95,152.01 L490.63,151.97 L491.30,151.92 L491.98,151.87 L492.66,151.83 L493.33,151.80 L494.01,151.76 L494.69,151.73 L495.36,151.71 L496.04,151.69 L496.72,151.69 L497.39,151.68 L498.07,151.69 L498.75,151.71 L499.42,151.74 L500.10,151.78 L500.78,151.84 L501.45,151.91 L502.13,152.00 L502.81,152.10 L503.48,152.23 L504.16,152.37 L504.84,152.54 L505.51,152.74 L506.19,152.96 L506.87,153.22 L507.54,153.50 L508.22,153.83 L508.90,154.18 L509.57,154.58 L510.25,155.02 L510.93,155.51 L511.60,156.04 L512.28,156.62 L512.96,157.26 L513.63,157.95 L514.31,158.69 L514.99,159.50 L515.66,160.36 L516.34,161.29 L517.02,162.28 L517.69,163.32 L518.37,164.43 L519.05,165.61 L519.72,166.84 L520.40,168.12 L521.08,169.46 L521.75,170.85 L522.43,172.29 L523.11,173.76 L523.78,175.27 L524.46,176.81 L525.14,178.37 L525.81,179.94 L526.49,181.52 L527.17,183.10 L527.84,184.67 L528.52,186.24 L529.20,187.77 L529.87,189.29 L530.55,190.77 L531.23,192.21 L531.90,193.61 L532.58,194.96 L533.26,196.26 L533.93,197.51 L534.61,198.70 L535.29,199.84 L535.96,200.92 L536.64,201.94 L537.32,202.91 L537.99,203.82 L538.67,204.68 L539.35,205.48 L540.02,206.23 L540.70,206.93 L541.38,207.58 L542.05,208.19 L542.73,208.76 L543.41,209.28 L544.08,209.76 L544.76,210.21 L545.44,210.62 L546.11,211.01 L546.79,211.36 L547.47,211.68 L548.14,211.98 L548.82,212.25 L549.50,212.50 L550.17,212.74 L550.85,212.95 L551.53,213.14 L552.20,213.32 L552.88,213.48 L553.56,213.63 L554.23,213.77 L554.91,213.89 L555.59,214.01 L556.26,214.11 L556.94,214.21 L557.62,214.29 L558.29,214.37 L558.97,214.45 L559.65,214.51 L560.32,214.57 L561.00,214.63 L561.68,214.68 L562.35,214.72 L563.03,214.77 L563.71,214.81 L564.38,214.84 L565.06,214.87 L565.74,214.90 L566.42,214.93 L567.09,214.95 L567.77,214.97 L568.45,214.99 L569.12,215.01 L569.80,215.03 L570.48,215.04 L571.15,215.06 L571.83,215.07 L572.51,215.08 L573.18,215.09 L573.86,215.10 L574.54,215.11 L575.21,215.12 L575.89,215.13 L576.57,215.13 L577.24,215.14 L577.92,215.14 L578.60,215.15 L579.27,215.15 L579.95,215.16 L580.63,215.16 L581.30,215.16 L581.98,215.17 L582.66,215.17 L583.33,215.17 L584.01,215.18 L584.69,215.18 L585.36,215.18" fill="none" stroke="#000000" stroke-width="1.7" stroke-linejoin="round"/>
<circle cx="450.70" cy="153.40" r="1.6" fill="#E322F6"/>
<circle cx="494.99" cy="143.60" r="1.6" fill="#E322F6"/>
<circle cx="510.55" cy="125.00" r="1.6" fill="#E322F6"/>
<circle cx="531.50" cy="106.50" r="1.6" fill="#E322F6"/>
<path d="M545.74,124.60 L545.74,132.70 M543.94,124.60 L547.54,124.60 M543.94,132.70 L547.54,132.70" stroke="#E322F6" stroke-width="0.9" fill="none"/>
<circle cx="545.74" cy="128.70" r="1.6" fill="#E322F6"/>
<path d="M561.42,141.40 L561.42,163.00 M559.62,141.40 L563.22,141.40 M559.62,163.00 L563.22,163.00" stroke="#E322F6" stroke-width="0.9" fill="none"/>
<circle cx="561.42" cy="152.00" r="1.6" fill="#E322F6"/>
<circle cx="450.70" cy="150.00" r="1.6" fill="#1F70F2"/>
<circle cx="494.99" cy="141.30" r="1.6" fill="#1F70F2"/>
<path d="M510.55,118.50 L510.55,127.00 M508.75,118.50 L512.35,118.50 M508.75,127.00 L512.35,127.00" stroke="#1F70F2" stroke-width="0.9" fill="none"/>
<circle cx="510.55" cy="122.40" r="1.6" fill="#1F70F2"/>
<path d="M531.50,117.80 L531.50,130.90 M529.70,117.80 L533.30,117.80 M529.70,130.90 L533.30,130.90" stroke="#1F70F2" stroke-width="0.9" fill="none"/>
<circle cx="531.50" cy="124.00" r="1.6" fill="#1F70F2"/>
<path d="M545.74,150.20 L545.74,158.90 M543.94,150.20 L547.54,150.20 M543.94,158.90 L547.54,158.90" stroke="#1F70F2" stroke-width="0.9" fill="none"/>
<circle cx="545.74" cy="154.30" r="1.6" fill="#1F70F2"/>
<path d="M561.42,184.50 L561.42,190.90 M559.62,184.50 L563.22,184.50 M559.62,190.90 L563.22,190.90" stroke="#1F70F2" stroke-width="0.9" fill="none"/>
<circle cx="561.42" cy="188.00" r="1.6" fill="#1F70F2"/>
<path d="M450.70,143.60 L450.70,149.50 M448.90,143.60 L452.50,143.60 M448.90,149.50 L452.50,149.50" stroke="#EE1422" stroke-width="0.9" fill="none"/>
<rect x="449.10" y="144.90" width="3.2" height="3.2" fill="#EE1422"/>
<rect x="463.46" y="156.80" width="3.2" height="3.2" fill="#EE1422"/>
<path d="M480.62,145.90 L480.62,150.50 M478.82,145.90 L482.43,145.90 M478.82,150.50 L482.43,150.50" stroke="#EE1422" stroke-width="0.9" fill="none"/>
<rect x="479.02" y="146.00" width="3.2" height="3.2" fill="#EE1422"/>
<rect x="493.39" y="141.40" width="3.2" height="3.2" fill="#EE1422"/>
<path d="M510.55,124.70 L510.55,133.20 M508.75,124.70 L512.35,124.70 M508.75,133.20 L512.35,133.20" stroke="#EE1422" stroke-width="0.9" fill="none"/>
<rect x="508.95" y="127.00" width="3.2" height="3.2" fill="#EE1422"/>
<path d="M531.50,152.00 L531.50,158.30 M529.70,152.00 L533.30,152.00 M529.70,158.30 L533.30,158.30" stroke="#EE1422" stroke-width="0.9" fill="none"/>
<rect x="529.90" y="153.80" width="3.2" height="3.2" fill="#EE1422"/>
<rect x="544.14" y="178.20" width="3.2" height="3.2" fill="#EE1422"/>
<rect x="559.82" y="209.80" width="3.2" height="3.2" fill="#EE1422"/>
<path d="M450.70,136.60 L450.70,147.00 M448.90,136.60 L452.50,136.60 M448.90,147.00 L452.50,147.00" stroke="#000000" stroke-width="0.9" fill="none"/>
<circle cx="450.70" cy="142.20" r="1.6" fill="#000000"/>
<circle cx="465.06" cy="156.30" r="1.6" fill="#000000"/>
<path d="M480.62,154.00 L480.62,158.10 M478.82,154.00 L482.43,154.00 M478.82,158.10 L482.43,158.10" stroke="#000000" stroke-width="0.9" fill="none"/>
<circle cx="480.62" cy="156.30" r="1.6" fill="#000000"/>
<circle cx="494.99" cy="151.10" r="1.6" fill="#000000"/>
<circle cx="510.55" cy="156.70" r="1.6" fill="#000000"/>
<circle cx="531.50" cy="191.40" r="1.6" fill="#000000"/>
<circle cx="545.74" cy="211.40" r="1.6" fill="#000000"/>
<circle cx="561.42" cy="214.00" r="1.6" fill="#000000"/>
</svg>
</body></html>
